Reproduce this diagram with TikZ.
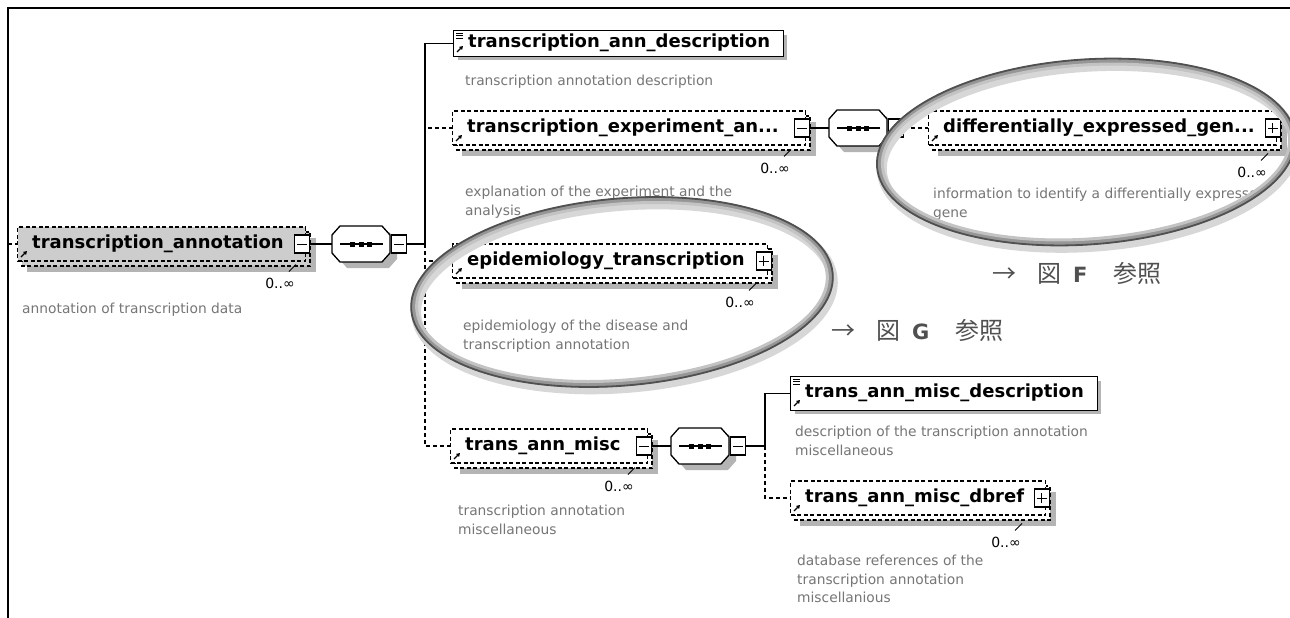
\documentclass[tikz,border=0pt]{standalone}
\usepackage{fontspec}
\setmainfont{DejaVu Sans}
\newfontfamily\jpfont{Noto Sans CJK JP}
\usetikzlibrary{arrows.meta}

\definecolor{shadowgrey}{RGB}{180,180,180}
\definecolor{selgrey}{RGB}{205,205,205}
\definecolor{docgrey}{RGB}{118,118,118}
\definecolor{refgrey}{RGB}{80,80,80}
\definecolor{ringdark}{RGB}{80,80,80}
\definecolor{ringmid}{RGB}{150,150,150}
\definecolor{ringlight}{RGB}{195,195,195}
\definecolor{ringsoft}{RGB}{215,215,215}

\tikzset{
  dashbox/.style={draw, line width=1.3pt, dash pattern=on 4pt off 2.5pt},
  solidbox/.style={draw, line width=1.4pt, fill=white, inner sep=0pt},
  btn/.style={draw, solid, fill=white, line width=1.1pt, minimum width=15pt, minimum height=18pt, inner sep=0pt},
  minusbtn/.style={btn, path picture={
      \draw[line width=1pt] ([xshift=2.5pt]path picture bounding box.west) -- ([xshift=-2.5pt]path picture bounding box.east);}},
  plusbtn/.style={btn, path picture={
      \draw[line width=1pt] ([xshift=2.5pt]path picture bounding box.west) -- ([xshift=-2.5pt]path picture bounding box.east);
      \draw[line width=1pt] ([yshift=5pt]path picture bounding box.center) -- ([yshift=-5pt]path picture bounding box.center);}},
  elname/.style={font=\fontsize{18}{20}\selectfont\bfseries, inner sep=0pt, anchor=west},
  occ/.style={font=\fontsize{14}{16}\selectfont, inner sep=0pt, anchor=east},
  doc/.style={font=\fontsize{13.8}{18.5}\selectfont, text=docgrey, inner sep=0pt, anchor=north west, align=left},
  link/.style={line width=1.4pt},
  optlink/.style={line width=1.4pt, dash pattern=on 4pt off 3pt},
  refarrow/.style={solid, line width=1.3pt, -{Triangle[length=3.5pt,width=4pt]}},
  refnote/.style={font=\jpfont\fontsize{24}{26}\selectfont, text=refgrey, inner sep=0pt, anchor=west},
}

% repeatable element: id, left x, centre y, right x, name, button style, box fill
\newcommand\repelem[7]{%
  \fill[shadowgrey] ({#2+10},{#3-6}) rectangle ({#4+11},{#3+28});
  \draw[dashbox, fill=#7] ({#2+5},{#3-12}) rectangle ({#4+5},{#3+22});
  \node[dashbox, fill=#7, anchor=west, minimum width={#4-#2}, minimum height=34, inner sep=0pt] (#1) at (#2,#3) {};
  \node[#6, anchor=east] (#1Btn) at ({#4+5},#3) {};
  \node[elname] (#1Name) at ({#2+15},#3) {#5};
  \draw[refarrow] ({#2+4},{#3+13}) -- ({#2+10},{#3+7});
}

% single element with text content: id, left, top, right, bottom, name
\newcommand\solidelem[6]{%
  \fill[shadowgrey] ({#2+5},{#3+5}) rectangle ({#4+4},{#5+4});
  \node[solidbox, anchor=north west, minimum width={#4-#2}, minimum height={#5-#3}] (#1) at (#2,#3) {};
  \node[elname] (#1Name) at ({#2+15},{(#3+#5)/2}) {#6};
  \foreach \k in {0,2.5,5} \draw[line width=0.9pt] ({#2+3},{#3+3+\k}) -- ({#2+10},{#3+3+\k});
  \draw[refarrow] ({#2+4},{#5-4}) -- ({#2+10},{#5-10});
}

% sequence compositor: id, left x, centre y
\newcommand\seqnode[3]{%
  \fill[shadowgrey] ({#2+15},{#3-12}) -- ({#2+57},{#3-12}) -- ({#2+65},{#3-3}) -- ({#2+65},{#3+15}) -- ({#2+57},{#3+24}) -- ({#2+15},{#3+24}) -- ({#2+7},{#3+15}) -- ({#2+7},{#3-3}) -- cycle;
  \draw[fill=white, line width=1.3pt] ({#2+8},{#3-18}) -- ({#2+50},{#3-18}) -- ({#2+58},{#3-9}) -- ({#2+58},{#3+9}) -- ({#2+50},{#3+18}) -- ({#2+8},{#3+18}) -- ({#2},{#3+9}) -- ({#2},{#3-9}) -- cycle;
  \node[inner sep=0pt, minimum width=58pt, minimum height=36pt, anchor=west] (#1) at (#2,#3) {};
  \draw[line width=1.2pt] ({#2+8},#3) -- ({#2+51},#3);
  \foreach \k in {0,8.5,17} \fill ({#2+18+\k},{#3-2.5}) rectangle ++(5,5);
  \node[minusbtn, anchor=west] (#1Btn) at ({#2+59},#3) {};
}

% highlight ring drawn as a shaded tube: centre x, centre y, radii, tilt
\newcommand\ring[5]{%
  \draw[ringsoft, line width=10pt, rotate around={#5:(#1,#2)}] ({#1+2},{#2+5}) ellipse [x radius=#3, y radius=#4];
  \draw[ringmid, line width=6pt, rotate around={#5:(#1,#2)}] (#1,#2) ellipse [x radius=#3, y radius=#4];
  \draw[ringlight, line width=3pt, rotate around={#5:(#1,#2)}] (#1,#2) ellipse [x radius={#3-3}, y radius={#4-3}];
  \draw[ringdark, line width=1.8pt, rotate around={#5:(#1,#2)}] (#1,#2) ellipse [x radius={#3+2.5}, y radius={#4+2.5}];
}

\begin{document}
\begin{tikzpicture}[x=1pt, y=-1pt]
\useasboundingbox (0,0) rectangle (1290,618);
\fill[white] (0,0) rectangle (1290,618);

% outer frame
\draw[line width=2pt] (1290,8) -- (8,8) -- (8,618);

% junction points of the branch lines
\coordinate (stub) at (8,244);
\coordinate (j1) at (425,244);
\coordinate (j3) at (765,446);

% elements
\repelem{annot}{17}{244}{305}{transcription\_annotation}{minusbtn}{selgrey}
\seqnode{seq1}{332}{244}
\solidelem{annDesc}{453}{30}{783}{56}{transcription\_ann\_description}
\repelem{exper}{452}{128}{805}{transcription\_experiment\_an...}{minusbtn}{white}
\seqnode{seq2}{829}{128}
\repelem{diff}{928}{128}{1276}{differentially\_expressed\_gen...}{plusbtn}{white}
\repelem{epi}{452}{261}{767}{epidemiology\_transcription}{plusbtn}{white}
\repelem{misc}{450}{446}{647}{trans\_ann\_misc}{minusbtn}{white}
\seqnode{seq3}{671}{446}
\solidelem{miscDesc}{790}{376}{1097}{410}{trans\_ann\_misc\_description}
\repelem{dbref}{790}{498}{1045}{trans\_ann\_misc\_dbref}{plusbtn}{white}

% connectors
\draw[optlink] (stub) -- (annot.west);
\draw[link] (annotBtn.east) -- (seq1.west);
\draw[link] (seq1Btn.east) -- (j1);
\draw[optlink] (j1) |- (exper.west);
\draw[optlink] (j1) |- (epi.west);
\draw[optlink] (j1) |- (misc.west);
\draw[link] (j1) |- (annDesc.west);
\draw[link] (experBtn.east) -- (seq2.west);
\draw[optlink] (seq2Btn.east) -- (diff.west);
\draw[link] (miscBtn.east) -- (seq3.west);
\draw[link] (seq3Btn.east) -- (j3);
\draw[optlink] (j3) |- (dbref.west);
\draw[link] (j3) |- (miscDesc.west);

% occurrence labels
\node[occ] (annotOcc) at (295,283) {0..∞};
\node[occ] (experOcc) at (790,168) {0..∞};
\node[occ] (diffOcc) at (1267,172) {0..∞};
\node[occ] (epiOcc) at (755,302) {0..∞};
\node[occ] (miscOcc) at (634,486) {0..∞};
\node[occ] (dbrefOcc) at (1021,542) {0..∞};
\foreach \o in {annotOcc,experOcc,diffOcc,epiOcc,miscOcc,dbrefOcc}
  \draw[line width=1pt] ([xshift=-6pt,yshift=6pt]\o.north east) -- ([xshift=1pt,yshift=13pt]\o.north east);

% documentation texts
\node[doc] (annotDoc) at (22,303) {annotation of transcription data};
\node[doc] (annDescDoc) at (465,75) {transcription annotation description};
\node[doc] (experDoc) at (465,186) {explanation of the experiment and the\\analysis};
\node[doc] (diffDoc) at (933,188) {information to identify a differentially expressed\\gene};
\node[doc] (epiDoc) at (463,320) {epidemiology of the disease and\\transcription annotation};
\node[doc] (miscDoc) at (458,505) {transcription annotation\\miscellaneous};
\node[doc] (miscDescDoc) at (795,426) {description of the transcription annotation\\miscellaneous};
\node[doc] (dbrefDoc) at (797,555) {database references of the\\transcription annotation\\miscellanious};

% highlight rings
\ring{1086}{152}{207}{90}{4}
\ring{622}{292}{209}{91}{5}

% cross references
\node[refnote] (seeF) at (992,273) {→\hspace{21pt}図\hspace{12pt}{\normalfont\fontsize{21}{24}\selectfont\bfseries F}\hspace{26pt}参照};
\node[refnote] (seeG) at (831,330) {→\hspace{21pt}図\hspace{12pt}{\normalfont\fontsize{21}{24}\selectfont\bfseries G}\hspace{26pt}参照};
\end{tikzpicture}
\end{document}
